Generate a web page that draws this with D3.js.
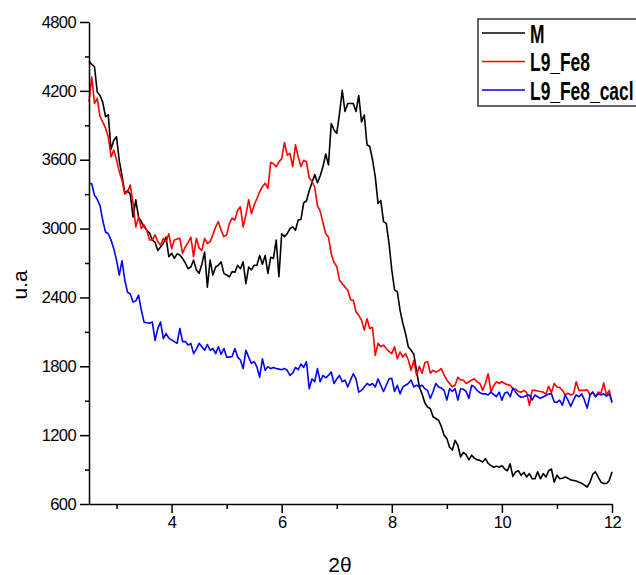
<!DOCTYPE html>
<html>
<head>
<meta charset="utf-8">
<script src="https://cdn.jsdelivr.net/npm/d3@7"></script>
<style>
body { margin: 0; background: #fff; }
.axis path, .axis line { stroke: #000; stroke-width: 1.5px; }
.axis text { font-family: "Liberation Sans", Arial, sans-serif; font-size: 16.5px; fill: #000; letter-spacing: -0.6px; }
</style>
</head>
<body>
<script>
/* series names and colours */
var seriesNames = ["M", "L9_Fe8", "L9_Fe8_cacl"];
var seriesColors = ["#000000", "#ff0000", "#0000ff"];

/* 2theta grid of the scan: 2.5 .. 12, step 0.05 */
var twoThetaStart = 2.5;
var twoThetaStep = 0.05;

/* intensities (u.a) */
var valuesM = [
  4460, 4430, 4410, 4190, 4160, 4100, 3975, 3990, 3690, 3770,
  3800, 3590, 3460, 3310, 3330, 3300, 3100, 3250, 3100, 3060,
  3015, 2985, 2960, 2900, 2880, 2810, 2840, 2870, 2925, 2755,
  2785, 2740, 2780, 2770, 2740, 2700, 2650, 2665, 2725, 2640,
  2610, 2690, 2795, 2490, 2725, 2595, 2665, 2680, 2710, 2610,
  2595, 2580, 2625, 2620, 2680, 2650, 2710, 2520, 2665, 2640,
  2680, 2680, 2765, 2690, 2765, 2610, 2750, 2740, 2900, 2580,
  2955, 2930, 2955, 3000, 3015, 2985, 3075, 3080, 3225, 3240,
  3330, 3400, 3470, 3400, 3460, 3540, 3650, 3555, 3915, 3860,
  3830, 4000, 4205, 4020, 4090, 4090, 4090, 4020, 4160, 3930,
  3990, 3730, 3715, 3600, 3450, 3220, 3245, 3060, 3045, 2870,
  2640, 2465, 2450, 2290, 2175, 2085, 1970, 1940, 1905, 1760,
  1620, 1560, 1480, 1445, 1430, 1360, 1345, 1330, 1275, 1200,
  1170, 1095, 1070, 1155, 1110, 1010, 1050, 1030, 985, 1025,
  1000, 985, 980, 965, 995, 955, 935, 920, 930, 920,
  935, 905, 890, 950, 840, 880, 890, 850, 875, 835,
  865, 820, 820, 880, 820, 865, 835, 890, 905, 790,
  850, 820, 825, 835, 825, 810, 805, 800, 790, 780,
  765, 748, 790, 860, 880, 835, 790, 778, 778, 805,
  880
];

var valuesFe8 = [
  4105, 4320, 4090, 4135, 3975, 3930, 3875, 3800, 3625, 3685,
  3600, 3495, 3420, 3300, 3320, 3380, 3220, 3015, 3100, 3000,
  3030, 2985, 2900, 2900, 2945, 2885, 2855, 2915, 2885, 2955,
  2825, 2900, 2910, 2915, 2785, 2840, 2880, 2925, 2755, 2915,
  2830, 2810, 2915, 2870, 2885, 2945, 3015, 3060, 2985, 2930,
  2945, 3045, 3090, 3075, 3160, 3190, 3015, 3120, 3250, 3130,
  3205, 3260, 3320, 3365, 3395, 3350, 3575, 3565, 3540, 3580,
  3610, 3750, 3640, 3655, 3540, 3730, 3625, 3540, 3595, 3580,
  3440, 3410, 3360, 3200, 3150, 3050, 2955, 2925, 2780, 2705,
  2670, 2550, 2520, 2490, 2465, 2380, 2375, 2275, 2245, 2200,
  2115, 2215, 2130, 2140, 1895, 2000, 1970, 1985, 1955, 1930,
  1910, 1970, 1865, 1925, 1880, 1910, 1855, 1765, 1850, 1720,
  1800, 1740, 1830, 1840, 1740, 1765, 1750, 1760, 1780, 1725,
  1680, 1650, 1620, 1635, 1705, 1680, 1680, 1650, 1665, 1680,
  1690, 1665, 1650, 1590, 1650, 1735, 1580, 1630, 1665, 1650,
  1665, 1650, 1640, 1635, 1605, 1600, 1580, 1575, 1590, 1570,
  1460, 1590, 1590, 1585, 1580, 1575, 1560, 1625, 1570, 1650,
  1620, 1615, 1590, 1550, 1565, 1550, 1560, 1665, 1590, 1590,
  1590, 1595, 1550, 1575, 1535, 1575, 1565, 1655, 1550, 1590,
  1480
];

var valuesFe8Cacl = [
  3395, 3390, 3290, 3255, 3200, 3070, 2970, 2955, 2900, 2825,
  2725, 2595, 2720, 2550, 2445, 2430, 2360, 2370, 2420, 2290,
  2185, 2180, 2175, 2185, 2025, 2130, 2185, 2040, 2085, 2045,
  2030, 2015, 2000, 2130, 2015, 2015, 1985, 2000, 1910, 1950,
  2000, 1970, 1940, 1990, 1940, 1955, 1910, 1970, 1905, 1955,
  1880, 1880, 1885, 1955, 1880, 1855, 1780, 1940, 1880, 1825,
  1840, 1795, 1705, 1865, 1765, 1795, 1780, 1790, 1780, 1775,
  1770, 1780, 1765, 1720, 1740, 1790, 1770, 1820, 1790, 1840,
  1605, 1690, 1665, 1780, 1665, 1720, 1700, 1720, 1750, 1650,
  1690, 1720, 1665, 1680, 1620, 1680, 1735, 1690, 1575, 1590,
  1620, 1650, 1635, 1650, 1620, 1690, 1635, 1580, 1635, 1690,
  1695, 1580, 1635, 1560, 1620, 1635, 1650, 1680, 1620, 1635,
  1620, 1635, 1605, 1590, 1520, 1580, 1650, 1620, 1610, 1590,
  1505, 1605, 1580, 1605, 1505, 1605, 1600, 1580, 1520, 1635,
  1620, 1590, 1570, 1560, 1560, 1550, 1575, 1555, 1535, 1575,
  1505, 1565, 1575, 1535, 1610, 1575, 1545, 1530, 1535, 1545,
  1550, 1505, 1550, 1535, 1520, 1535, 1545, 1560, 1560, 1490,
  1485, 1505, 1460, 1550, 1505, 1450, 1505, 1550, 1535, 1560,
  1505, 1435, 1550, 1575, 1535, 1560, 1550, 1560, 1540, 1560,
  1490
];

/* axis ticks */
var xMajorTicks = [4, 6, 8, 10, 12];
var xMinorTicks = [3, 5, 7, 9, 11];
var yMajorTicks = [600, 1200, 1800, 2400, 3000, 3600, 4200, 4800];
var yMinorTicks = [900, 1500, 2100, 2700, 3300, 3900, 4500];

var width = 636;
var height = 575;
var plot = {left: 89, right: 612, top: 22, bottom: 504}; // plot area in pixels

var svg = d3.select("body").append("svg")
    .attr("width", width)
    .attr("height", height);

var xScale = d3.scaleLinear().domain([2.5, 12]).range([plot.left, plot.right]);
var yScale = d3.scaleLinear().domain([600, 4800]).range([plot.bottom, plot.top]);

/* curves */
var seriesValues = [valuesM, valuesFe8, valuesFe8Cacl];
var line = d3.line()
    .x(function(d, i) { return xScale(twoThetaStart + i * twoThetaStep); })
    .y(function(d) { return yScale(d); });

svg.selectAll(".curve")
    .data(seriesValues)
    .enter()
    .append("path")
    .attr("class", "curve")
    .attr("fill", "none")
    .attr("stroke", function(d, i) { return seriesColors[i]; })
    .attr("stroke-width", 1.6)
    .attr("stroke-linejoin", "round")
    .attr("d", line);

/* x axis, major + minor ticks */
svg.append("g")
    .attr("class", "axis")
    .attr("transform", "translate(0," + plot.bottom + ")")
    .call(d3.axisBottom(xScale).tickValues(xMajorTicks).tickSize(9).tickSizeOuter(0).tickPadding(3).tickFormat(d3.format("d")));

svg.append("g")
    .attr("class", "axis")
    .attr("transform", "translate(0," + plot.bottom + ")")
    .call(d3.axisBottom(xScale).tickValues(xMinorTicks).tickSize(5).tickFormat(""))
    .select(".domain").remove();

/* y axis, major + minor ticks */
svg.append("g")
    .attr("class", "axis")
    .attr("transform", "translate(" + plot.left + ",0)")
    .call(d3.axisLeft(yScale).tickValues(yMajorTicks).tickSize(9).tickSizeOuter(0).tickPadding(4).tickFormat(d3.format("d")));

svg.append("g")
    .attr("class", "axis")
    .attr("transform", "translate(" + plot.left + ",0)")
    .call(d3.axisLeft(yScale).tickValues(yMinorTicks).tickSize(4).tickFormat(""))
    .select(".domain").remove();

/* axis titles */
svg.append("text")
    .attr("transform", "translate(27,285) rotate(-90)")
    .attr("text-anchor", "middle")
    .style("font-family", "Liberation Sans, Arial, sans-serif")
    .style("font-size", "21px")
    .text("u.a");

svg.append("text")
    .attr("x", 340)
    .attr("y", 572)
    .attr("text-anchor", "middle")
    .style("font-family", "Liberation Sans, Arial, sans-serif")
    .style("font-size", "21px")
    .text("2θ");

/* legend (runs off the right edge like the original) */
var legend = svg.append("g").attr("class", "legend");

legend.append("rect")
    .attr("x", 478)
    .attr("y", 19)
    .attr("width", 220)
    .attr("height", 87)
    .attr("fill", "#fff")
    .attr("stroke", "#333")
    .attr("stroke-width", 1.5);

var legendRow = 28.5;
var items = legend.selectAll(".item")
    .data(seriesNames)
    .enter()
    .append("g")
    .attr("class", "item")
    .attr("transform", function(d, i) { return "translate(0," + (i * legendRow) + ")"; });

items.append("line")
    .attr("x1", 482)
    .attr("x2", 525)
    .attr("y1", 33)
    .attr("y2", 33)
    .attr("stroke", function(d, i) { return seriesColors[i]; })
    .attr("stroke-width", 1.6);

items.append("text")
    .attr("transform", "translate(530,42.5) scale(0.67,1)")
    .style("font-family", "Liberation Sans, Arial, sans-serif")
    .style("font-size", "26px")
    .style("font-weight", "bold")
    .text(function(d) { return d; });
</script>
</body>
</html>
